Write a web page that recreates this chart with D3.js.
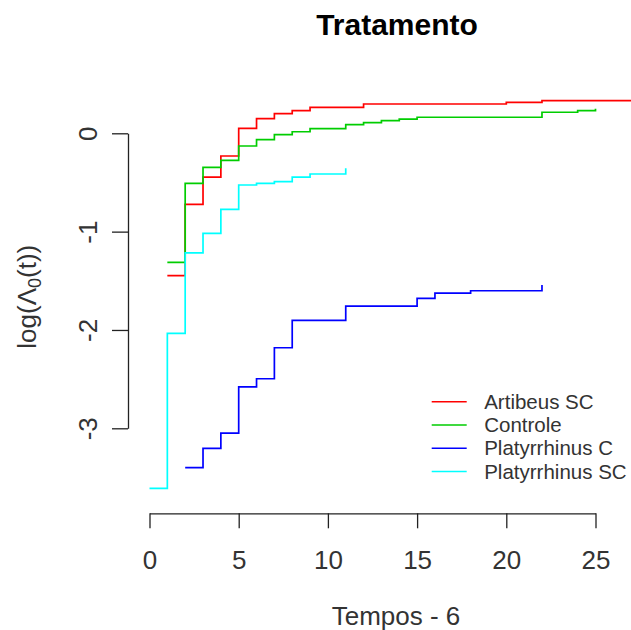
<!DOCTYPE html>
<html>
<head>
<meta charset="utf-8">
<script src="https://cdn.jsdelivr.net/npm/d3@7"></script>
<style>
  body { margin: 0; background: #fff; }
  svg { display: block; font-family: "Liberation Sans", Arial, sans-serif; }
</style>
</head>
<body>
<div id="chart"></div>
<script>
// series: times and log cumulative hazard
var groups = ['Artibeus SC', 'Controle', 'Platyrrhinus C', 'Platyrrhinus SC'];
var colors = ['#ff0000', '#00cd00', '#0000ff', '#00ffff'];

var artibeusT = [1, 2, 3, 4, 5, 6, 7, 8, 9, 12, 20, 22, 30];
var artibeusV = [-1.448, -0.722, -0.445, -0.231, 0.051, 0.149, 0.2, 0.23, 0.264, 0.298, 0.315, 0.332, 0.332];

var controleT = [1, 2, 3, 4, 5, 6, 7, 8, 9, 11, 12, 13, 14, 15, 22, 24, 25];
var controleV = [-1.312, -0.509, -0.346, -0.275, -0.129, -0.065, -0.014, 0.016, 0.047, 0.088, 0.108, 0.128, 0.145, 0.163, 0.214, 0.23, 0.25];

var platCT = [2, 3, 4, 5, 6, 7, 8, 11, 15, 16, 18, 22];
var platCV = [-3.40, -3.205, -3.05, -2.578, -2.496, -2.181, -1.902, -1.757, -1.679, -1.625, -1.601, -1.543];

var platSCT = [0, 1, 2, 3, 4, 5, 6, 7, 8, 9, 11];
var platSCV = [-3.61, -2.035, -1.215, -1.017, -0.773, -0.526, -0.509, -0.492, -0.445, -0.414, -0.356];

var xTicks = [0, 5, 10, 15, 20, 25];
var yTicks = [-3, -2, -1, 0];

var width = 631, height = 630;

var series = [
  { name: groups[0], t: artibeusT, v: artibeusV },
  { name: groups[1], t: controleT, v: controleV },
  { name: groups[2], t: platCT, v: platCV },
  { name: groups[3], t: platSCT, v: platSCV }
];

var x = d3.scaleLinear().domain([0, 25]).range([149.5, 595.5]);
var y = d3.scaleLinear().domain([-3, 0]).range([428.3, 133.3]);

var svg = d3.select("#chart").append("svg")
    .attr("width", width)
    .attr("height", height);

svg.append("rect")
    .attr("width", width)
    .attr("height", height)
    .attr("fill", "#fff");

var line = d3.line()
    .x(function(d) { return x(d[0]); })
    .y(function(d) { return y(d[1]); })
    .curve(d3.curveStepAfter);

svg.selectAll("path.curve")
    .data(series)
  .enter().append("path")
    .attr("class", "curve")
    .attr("fill", "none")
    .attr("stroke", function(d, i) { return colors[i]; })
    .attr("stroke-width", 1.7)
    .attr("d", function(d) {
      return line(d.t.map(function(t, i) { return [t, d.v[i]]; }));
    });

// axes, R style: the line only spans first to last tick
var xAxis = svg.append("g")
    .attr("transform", "translate(0,513.3)")
    .call(d3.axisBottom(x).tickValues(xTicks).tickSize(15).tickSizeOuter(0));

xAxis.selectAll("text")
    .attr("y", 55.7)
    .attr("dy", 0)
    .attr("font-size", 26)
    .attr("font-family", "Liberation Sans, Arial, sans-serif")
    .attr("fill", "#333");

var yAxis = svg.append("g")
    .attr("transform", "translate(128,0)")
    .call(d3.axisLeft(y).tickValues(yTicks).tickSize(16).tickSizeOuter(0)
      .tickFormat(function(d) { return String(d); }));  // plain hyphen like R

yAxis.selectAll("text")
    .attr("transform", "rotate(-90)")
    .attr("text-anchor", "middle")
    .attr("x", 0)
    .attr("y", -31.3)
    .attr("dy", 0)
    .attr("font-size", 26)
    .attr("font-family", "Liberation Sans, Arial, sans-serif")
    .attr("fill", "#333");

svg.selectAll(".domain, .tick line")
    .attr("stroke", "#222")
    .attr("stroke-width", 1.3);

// titles
svg.append("text")
    .attr("x", 397)
    .attr("y", 35)
    .attr("text-anchor", "middle")
    .attr("font-size", 30)
    .attr("font-weight", "bold")
    .text("Tratamento");

svg.append("text")
    .attr("x", 396)
    .attr("y", 625)
    .attr("text-anchor", "middle")
    .attr("font-size", 26)
    .attr("fill", "#333")
    .text("Tempos - 6");

var ylab = svg.append("text")
    .attr("transform", "translate(36,296.7) rotate(-90)")
    .attr("text-anchor", "middle")
    .attr("font-size", 26)
    .attr("fill", "#333");
ylab.append("tspan").text("log(\u039b");
ylab.append("tspan").attr("font-size", 18).attr("dy", 5).text("0");
ylab.append("tspan").attr("dy", -5).text("(t))");

// legend
var legend = svg.append("g")
    .attr("transform", "translate(431.7,401.7)");

var item = legend.selectAll("g")
    .data(groups)
  .enter().append("g")
    .attr("transform", function(d, i) { return "translate(0," + (i * 23.3) + ")"; });

item.append("line")
    .attr("x1", 0)
    .attr("x2", 35)
    .attr("stroke", function(d, i) { return colors[i]; })
    .attr("stroke-width", 1.5);

item.append("text")
    .attr("x", 52.5)
    .attr("dy", "0.35em")
    .attr("font-size", 20.5)
    .attr("fill", "#333")
    .text(function(d) { return d; });
</script>
</body>
</html>
